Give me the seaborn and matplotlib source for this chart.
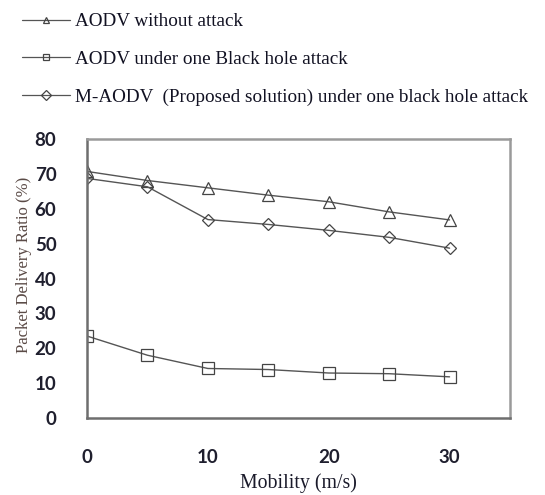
import numpy as np
import pandas as pd
import matplotlib
matplotlib.use("Agg")
import matplotlib.pyplot as plt
import seaborn as sns

# ---- data ----
mobility = [0, 5, 10, 15, 20, 25, 30]
aodv_no_attack = [70.7, 68.1, 66.0, 63.9, 62.0, 59.1, 56.8]
aodv_blackhole = [23.5, 18.0, 14.2, 13.9, 12.9, 12.7, 11.8]
maodv_blackhole = [68.7, 66.3, 56.9, 55.5, 53.8, 51.8, 48.7]
series_names = [
    "AODV without attack",
    "AODV under one Black hole attack",
    "M-AODV  (Proposed solution) under one black hole attack",
]
y_ticks = [0, 10, 20, 30, 40, 50, 60, 70, 80]
x_ticks = [0, 10, 20, 30]

df = pd.DataFrame({
    "Mobility": mobility * 3,
    "PDR": aodv_no_attack + aodv_blackhole + maodv_blackhole,
    "Series": [series_names[0]] * 7 + [series_names[1]] * 7 + [series_names[2]] * 7,
})

sns.set_theme(style="white")
plt.rcParams["font.family"] = ["Liberation Serif", "DejaVu Serif"]

fig = plt.figure(figsize=(5.45, 4.95), dpi=100)
ax = fig.add_axes([87 / 545, 1 - 418 / 495, (510 - 87) / 545, (418 - 139) / 495])

line_col = "#555555"
sns.lineplot(
    data=df, x="Mobility", y="PDR", hue="Series", style="Series",
    hue_order=series_names, style_order=series_names,
    palette=[line_col] * 3, markers=["^", "s", "D"], dashes=False,
    linewidth=1.0, markersize=8, markerfacecolor="none",
    markeredgecolor="#444444", markeredgewidth=0.9, ax=ax, legend=True,
)
for ln in ax.get_lines():
    if ln.get_marker() == "D":
        ln.set_markersize(6.5)

ax.set_xlim(0, 35)
ax.set_ylim(0, 80)
ax.set_xticks(x_ticks)
ax.set_yticks(y_ticks)

tick_font = dict(family=["Lato", "DejaVu Sans"], size=13.5, weight="bold")
ax.set_xticklabels([str(t) for t in x_ticks], fontdict=tick_font, color="#1f1f2e")
ax.set_yticklabels([str(t) for t in y_ticks], fontdict=tick_font, color="#1f1f2e")
ax.tick_params(axis="both", length=0)
ax.tick_params(axis="y", pad=22)
ax.tick_params(axis="x", pad=22)

for s in ax.spines.values():
    s.set_color("#9a9a9a")
    s.set_linewidth(1.8)
ax.spines["left"].set_color("#6e6e6e")
ax.spines["bottom"].set_color("#6e6e6e")

ax.set_xlabel("Mobility (m/s)", fontsize=14.3, color="#1a1a2a", va="center")
ax.xaxis.set_label_coords(0.5, (418 - 483) / 279)
ax.set_ylabel("Packet Delivery Ratio (%)", fontsize=12, color="#5a4a46", va="center")
ax.yaxis.set_label_coords((24 - 87) / 423, (418 - 265) / 279)

handles, labels = ax.get_legend_handles_labels()
ax.get_legend().remove()
leg = fig.legend(
    handles, labels, loc="upper left", bbox_to_anchor=(22 / 545, 1 - 13 / 495),
    frameon=False, fontsize=13.8, handlelength=2.5, handletextpad=0.25,
    labelspacing=1.05, borderaxespad=0, borderpad=0,
)
for h in leg.legend_handles:
    h.set_markersize(5)
    h.set_linewidth(0.9)
for t in leg.get_texts():
    t.set_color("#111122")

fig.savefig("out.png", dpi=100, facecolor="white")
